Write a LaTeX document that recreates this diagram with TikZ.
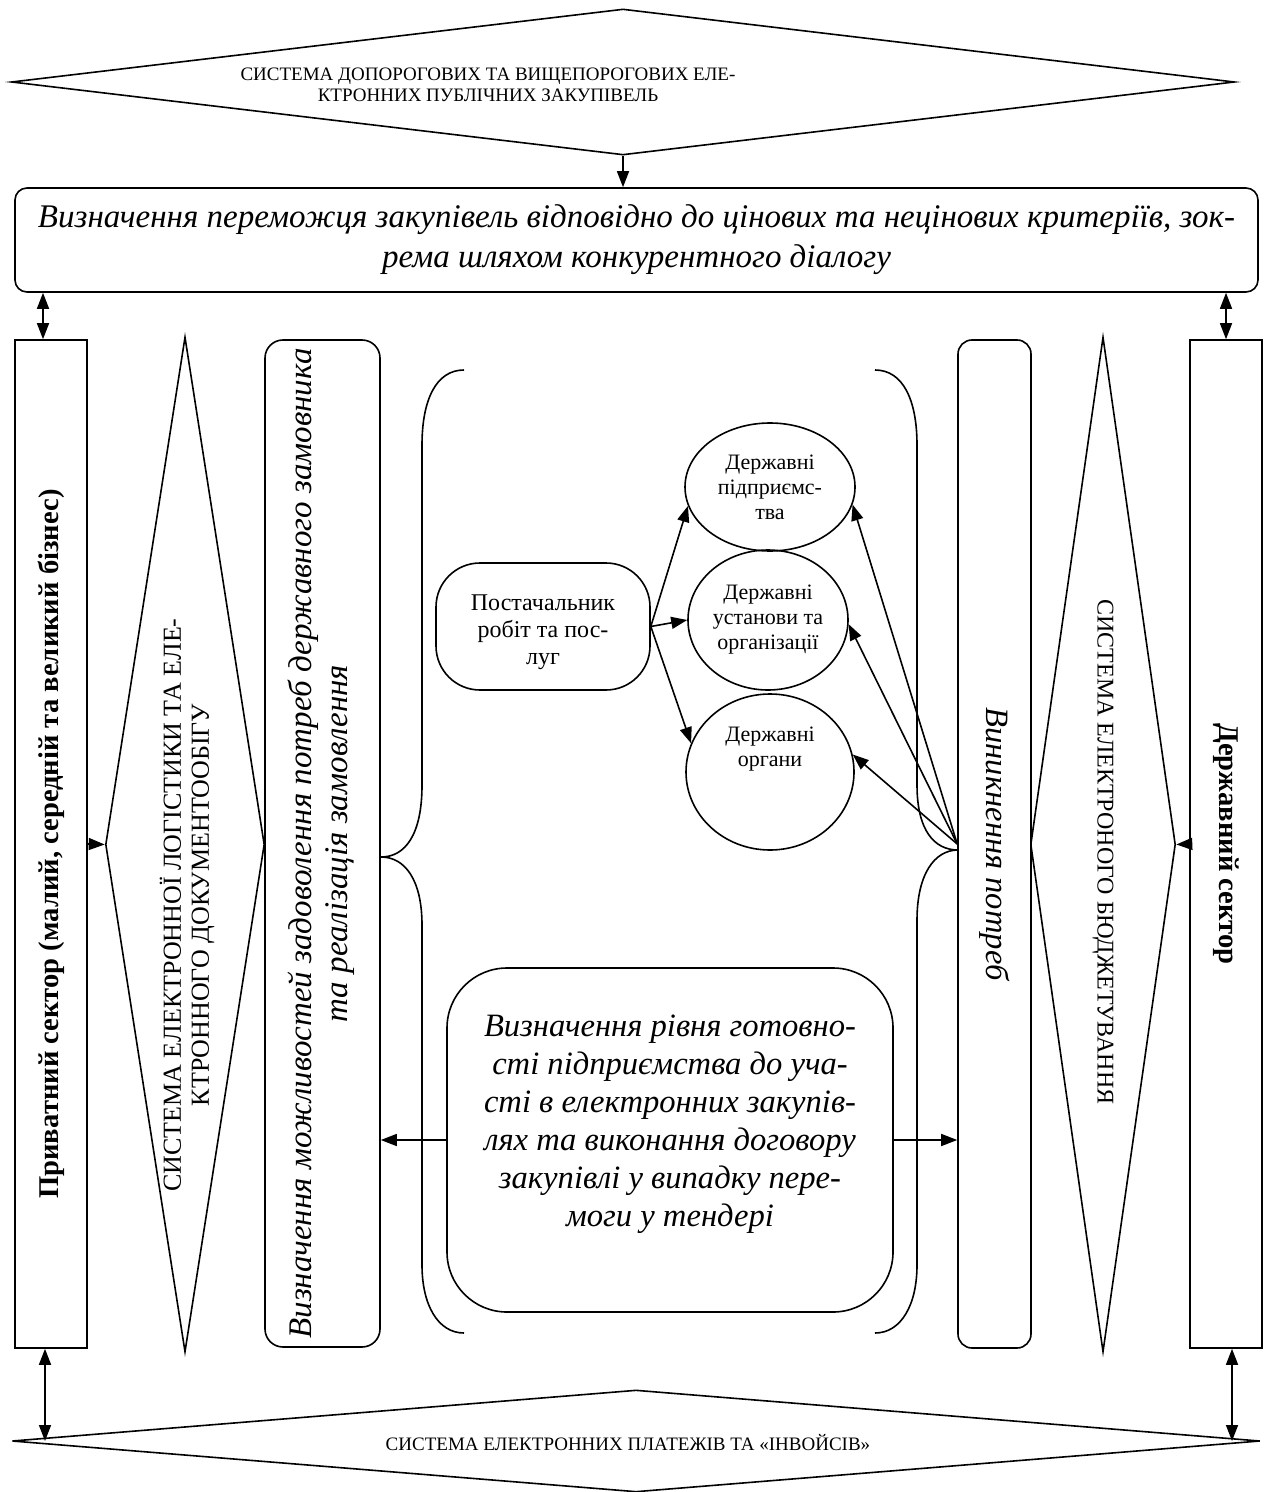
\documentclass[tikz,border=0pt]{standalone}
\usepackage{fontspec}
\setmainfont{Liberation Serif}
\usepackage{graphicx}
\usepackage{tikz}
\usetikzlibrary{shapes.geometric,arrows.meta}
\tikzset{every node/.style={inner sep=0pt},
	sysbox/.style={diamond,draw,inner sep=0pt},
	systext/.style={align=center,font=\fontsize{9.5}{10.5}\selectfont},
	sectbox/.style={rectangle,draw,font=\fontsize{14.3}{16}\selectfont\bfseries},
	stepbox/.style={rectangle,draw,rounded corners=#1},
	orgbox/.style={ellipse,draw,align=center,font=\fontsize{11}{12.5}\selectfont},
	itext/.style={font=\fontsize{16.3}{19}\selectfont\itshape},
	link/.style={-{Triangle[length=8pt,width=6pt]}},
	dlink/.style={{Triangle[length=8pt,width=6pt]}-{Triangle[length=8pt,width=6pt]}}}

\begin{document}
\begin{tikzpicture}[x=0.5pt,y=-0.5pt,line width=0.8pt]
\useasboundingbox (0,0) rectangle (1266,1492);
% systems
\node [sysbox,minimum width=611.5pt,minimum height=73pt] (dt) at (623,82) {};
\node [systext] (tt) at (488,85) {СИСТЕМА ДОПОРОГОВИХ ТА ВИЩЕПОРОГОВИХ ЕЛЕ-\\КТРОННИХ ПУБЛІЧНИХ ЗАКУПІВЕЛЬ};
\node [sysbox,minimum width=624pt,minimum height=51pt] (db) at (636,1441) {};
\node [systext] (bt) at (628,1443) {СИСТЕМА ЕЛЕКТРОННИХ ПЛАТЕЖІВ ТА «ІНВОЙСІВ»};
\node [sysbox,minimum width=79.5pt,minimum height=507.5pt] (dl) at (185,844.5) {};
\node [systext,rotate=90,font=\fontsize{13}{14}\selectfont] (lt) at (187,905)
  {СИСТЕМА ЕЛЕКТРОННОЇ ЛОГІСТИКИ ТА ЕЛЕ-\\КТРОННОГО ДОКУМЕНТООБІГУ};
\node [sysbox,minimum width=72.5pt,minimum height=507.5pt] (dr) at (1103,844.5) {};
\node [systext,rotate=-90,font=\fontsize{12}{13}\selectfont] (rt) at (1103,852)
  {СИСТЕМА ЕЛЕКТРОНОГО БЮДЖЕТУВАННЯ};
% boxes
\node [stepbox=6pt,align=center,font=\fontsize{16.5}{20}\selectfont\itshape,
  minimum width=621.5pt,minimum height=52pt] (t) at (636.5,240)
  {Визначення переможця закупівель відповідно до цінових та нецінових критеріїв, зок-\\рема шляхом конкурентного діалогу};
\node [sectbox,minimum width=36pt,minimum height=504pt] (p) at (51,844)
  {\rotatebox{90}{Приватний сектор (малий, середній та великий бізнес)}};
\node [sectbox,minimum width=36pt,minimum height=504pt] (s) at (1226,844)
  {\rotatebox{-90}{Державний сектор}};
\node [stepbox=9pt,font=\fontsize{16.5}{18}\selectfont\itshape,minimum width=57.5pt,minimum height=503.5pt] (m) at (322.5,843.5)
  {\rotatebox{90}{\begin{tabular}{@{}c@{}}Визначення можливостей задоволення потреб державного замовника\\та реалізація замовлення\end{tabular}}};
\node [stepbox=7pt,itext,minimum width=36.5pt,minimum height=504pt] (v) at (994.5,844)
  {\rotatebox{-90}{Виникнення потреб}};
\node [stepbox=22pt,align=center,font=\fontsize{12}{13.5}\selectfont,
  minimum width=107pt,minimum height=63.5pt] (b) at (543,626.5) {\mbox{}\\Постачальник\\робіт та пос-\\луг};
\node [orgbox,minimum width=85pt,minimum height=64pt] (e1) at (770,487) {Державні\\підприємс-\\тва};
\node [orgbox,minimum width=80pt,minimum height=70pt] (e2) at (768,620) {Державні\\установи та\\організації};
\node [orgbox,minimum width=84pt,minimum height=78pt] (e3) at (770,772) {Державні\\органи\\\mbox{}\\\mbox{}};
\node [stepbox=30pt,itext,align=center,minimum width=223pt,minimum height=172pt] (r) at (670,1140)
  {Визначення рівня готовно-\\сті підприємства до уча-\\сті в електронних закупів-\\лях та виконання договору\\закупівлі у випадку пере-\\моги у тендері\\\mbox{}};
% braces
\draw (464,370) .. controls (436,370) and (422,400) .. (422,445) -- (422,785)
  .. controls (422,835) and (405,857) .. (381,857) .. controls (405,857) and (422,880) .. (422,925)
  -- (422,1265) .. controls (422,1305) and (438,1333) .. (464,1333);
\draw (875,370) .. controls (903,370) and (917,400) .. (917,445) -- (917,785)
  .. controls (917,830) and (934,850) .. (958,850) .. controls (934,850) and (917,875) .. (917,920)
  -- (917,1265) .. controls (917,1305) and (901,1333) .. (875,1333);
% arrows
\draw [link] (dt.south) -- (dt.south |- t.north);
\draw [dlink] ([xshift=-4pt]p.north |- t.south) -- ([xshift=-4pt]p.north);
\draw [dlink] (s.north |- t.south) -- (s.north);
\draw [dlink] ([xshift=-3pt]p.south) -- ([xshift=-3pt]p.south |- db.west);
\draw [dlink] ([xshift=3pt]s.south) -- ([xshift=3pt]s.south |- db.east);
\draw [link] (p.east) -- (dl.west);
\draw [link] (s.west) -- (dr.east);
\draw [link] (b.east) -- (e1.193);
\draw [link] (b.east) -- (e2.west);
\draw [link] (b.east) -- (e3.160);
\draw [link] (v.west) -- (e1.-12);
\draw [link] (v.west) -- (e2.-3);
\draw [link] (v.west) -- (e3.12);
\draw [link] (r.west) -- (r.west -| m.east);
\draw [link] (r.east) -- (r.east -| v.west);
\end{tikzpicture}
\end{document}
